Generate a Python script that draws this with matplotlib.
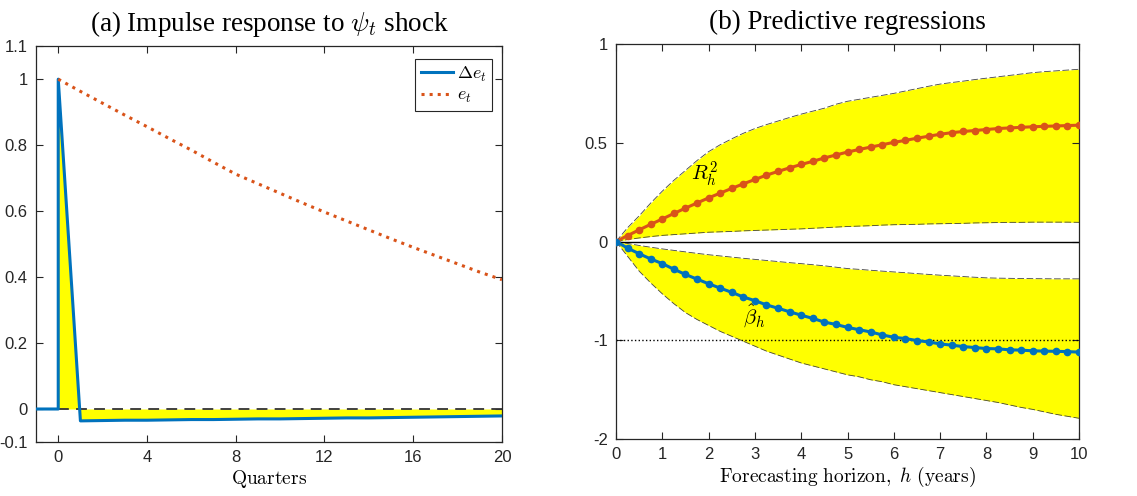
import matplotlib
matplotlib.use("Agg")
import matplotlib.pyplot as plt
import numpy as np

plt.rcParams['mathtext.fontset'] = 'cm'
plt.rcParams['font.family'] = ['Liberation Sans', 'DejaVu Sans']

BLUE = '#0072BD'
ORANGE = '#D95319'
YELLOW = '#FFFF00'
AXCOL = '#262626'

# ---- panel (a): impulse response ----
quarters = [-1, 0, 0, 1, 2, 3, 4, 5, 6, 7, 8, 9, 10, 11, 12, 13, 14, 15, 16, 17, 18, 19, 20]
d_e = [0, 0, 1.0, -0.036, -0.035, -0.034, -0.034, -0.033, -0.032, -0.032, -0.031, -0.030,
       -0.030, -0.029, -0.028, -0.027, -0.027, -0.026, -0.025, -0.024, -0.023, -0.022, -0.021]
e_quarters = list(range(0, 21))
e_level = [1.000, 0.963, 0.927, 0.891, 0.856, 0.820, 0.785, 0.748, 0.712, 0.683, 0.654,
           0.625, 0.597, 0.570, 0.543, 0.516, 0.490, 0.465, 0.440, 0.415, 0.392]
a_xticks = [0, 4, 8, 12, 16, 20]
a_yticks = [-0.1, 0, 0.2, 0.4, 0.6, 0.8, 1, 1.1]
a_ylabels = ['-0.1', '0', '0.2', '0.4', '0.6', '0.8', '1', '1.1']

# ---- panel (b): predictive regressions, quarterly grid in years ----
horizon = [i * 0.25 for i in range(41)]
r2 = [0, 0.030, 0.059, 0.087, 0.114, 0.142, 0.169, 0.195, 0.221, 0.245, 0.269, 0.292,
      0.314, 0.336, 0.355, 0.373, 0.390, 0.406, 0.423, 0.438, 0.453, 0.466, 0.478, 0.490,
      0.502, 0.512, 0.523, 0.533, 0.543, 0.551, 0.557, 0.562, 0.567, 0.572, 0.575, 0.578,
      0.581, 0.583, 0.585, 0.587, 0.589]
r2_hi = [0, 0.07, 0.13, 0.195, 0.255, 0.31, 0.36, 0.41, 0.455, 0.49, 0.52, 0.548, 0.572,
         0.592, 0.61, 0.628, 0.645, 0.66, 0.675, 0.695, 0.71, 0.72, 0.73, 0.74, 0.75, 0.762,
         0.774, 0.786, 0.797, 0.805, 0.812, 0.82, 0.827, 0.834, 0.841, 0.848, 0.855, 0.86,
         0.864, 0.868, 0.872]
r2_lo = [0, 0.010, 0.018, 0.025, 0.031, 0.035, 0.039, 0.043, 0.047, 0.049, 0.051, 0.054,
         0.056, 0.058, 0.060, 0.062, 0.064, 0.067, 0.070, 0.073, 0.076, 0.078, 0.080, 0.083,
         0.085, 0.086, 0.087, 0.089, 0.090, 0.091, 0.092, 0.094, 0.095, 0.096, 0.097, 0.097,
         0.098, 0.098, 0.098, 0.098, 0.097]
beta = [0, -0.067, -0.124, -0.177, -0.224, -0.281, -0.334, -0.381, -0.428, -0.472, -0.515,
        -0.562, -0.599, -0.642, -0.676, -0.712, -0.746, -0.779, -0.816, -0.840, -0.870,
        -0.893, -0.916, -0.946, -0.970, -0.983, -1.003, -1.017, -1.037, -1.050, -1.064,
        -1.074, -1.084, -1.087, -1.097, -1.100, -1.107, -1.110, -1.112, -1.115, -1.120]
beta_hi = [0, -0.02, -0.04, -0.058, -0.075, -0.09, -0.105, -0.12, -0.134, -0.146, -0.158,
           -0.17, -0.181, -0.192, -0.203, -0.214, -0.224, -0.235, -0.246, -0.26, -0.274,
           -0.282, -0.291, -0.30, -0.308, -0.316, -0.325, -0.333, -0.341, -0.348, -0.355,
           -0.362, -0.368, -0.371, -0.373, -0.375, -0.376, -0.377, -0.378, -0.378, -0.378]
beta_lo = [0, -0.15, -0.30, -0.42, -0.53, -0.63, -0.72, -0.79, -0.85, -0.91, -0.96, -1.01,
           -1.06, -1.11, -1.15, -1.19, -1.23, -1.26, -1.29, -1.32, -1.35, -1.37, -1.40,
           -1.42, -1.45, -1.47, -1.49, -1.51, -1.53, -1.55, -1.57, -1.59, -1.61, -1.63,
           -1.655, -1.68, -1.70, -1.725, -1.75, -1.77, -1.79]
b_xticks = list(range(0, 11))
# R^2 is drawn on a doubled scale, so tick labels above zero read 0.5 and 1
r2_scale = 2
b_yticks = [-2, -1, 0, 1, 2]
b_ylabels = ['-2', '-1', '0', '0.5', '1']


def style_axes(ax):
    ax.tick_params(direction='in', top=True, right=True, length=5, width=0.8,
                   colors=AXCOL, labelsize=12, pad=6)
    for s in ax.spines.values():
        s.set_color(AXCOL)
        s.set_linewidth(0.9)


fig = plt.figure(figsize=(11.37, 4.96), dpi=100)

# panel (a)
ax1 = fig.add_axes([0.0317, 0.1089, 0.4098, 0.798])
ax1.fill_between(quarters[1:], d_e[1:], 0, color=YELLOW, lw=0, zorder=1)
ax1.plot([0, 20], [0, 0], '--', color='#333333', lw=1.3, dashes=(6, 4), zorder=2)
ax1.plot(quarters, d_e, color=BLUE, lw=2.2, label=r'$\Delta e_t$', zorder=3)
ax1.plot(e_quarters, e_level, ':', color=ORANGE, lw=2.2, label=r'$e_t$', zorder=3)
ax1.set_xlim(-1, 20)
ax1.set_ylim(-0.1, 1.1)
ax1.set_xticks(a_xticks)
ax1.set_yticks(a_yticks)
ax1.set_yticklabels(a_ylabels)
style_axes(ax1)
ax1.set_xlabel(r'$\mathrm{Quarters}$', fontsize=14, labelpad=2)
ax1.set_title(r'(a) Impulse response to $\psi_t$ shock', fontsize=19.5,
              family='Liberation Serif', pad=11)
leg = ax1.legend(loc='upper right', bbox_to_anchor=(0.9785, 0.967), fontsize=13,
                 fancybox=False, framealpha=1, edgecolor=AXCOL, handlelength=1.8,
                 handletextpad=0.2, borderpad=0.3, labelspacing=0.2, borderaxespad=0)
leg.get_frame().set_linewidth(0.8)

# panel (b)
ax2 = fig.add_axes([0.5418, 0.1149, 0.4072, 0.7964])
h = np.array(horizon)
r2_hi_s = np.array(r2_hi) * r2_scale
r2_lo_s = np.array(r2_lo) * r2_scale
ax2.fill_between(h, r2_lo_s, r2_hi_s, color=YELLOW, lw=0, zorder=1)
ax2.fill_between(h, beta_lo, beta_hi, color=YELLOW, lw=0, zorder=1)
for band in (r2_hi_s, r2_lo_s, beta_hi, beta_lo):
    ax2.plot(h, band, '--', color='#444444', lw=0.6, dashes=(8, 3), zorder=2)
ax2.axhline(0, color='black', lw=1.0, zorder=2)
ax2.axhline(-1, color='black', lw=1.0, ls=':', zorder=2)
ax2.plot(h, np.array(r2) * r2_scale, '-o', color=ORANGE, lw=2.2, ms=4.5, zorder=3)
ax2.plot(h, beta, '-o', color=BLUE, lw=2.2, ms=4.5, zorder=3)
ax2.text(1.9, 0.68, r'$R_h^2$', fontsize=15, ha='center', va='center', zorder=5)
ax2.text(2.98, -0.76, r'$\hat{\beta}_h$', fontsize=15, ha='center', va='center', zorder=5)
ax2.set_xlim(0, 10)
ax2.set_ylim(-2, 2)
ax2.set_xticks(b_xticks)
ax2.set_yticks(b_yticks)
ax2.set_yticklabels(b_ylabels)
style_axes(ax2)
ax2.set_xlabel(r'$\mathrm{Forecasting\ horizon,}\ h\ \mathrm{(years)}$', fontsize=14, labelpad=2)
ax2.set_title('(b) Predictive regressions', fontsize=19.5, family='Liberation Serif', pad=11)

fig.savefig('out.png', dpi=100)
